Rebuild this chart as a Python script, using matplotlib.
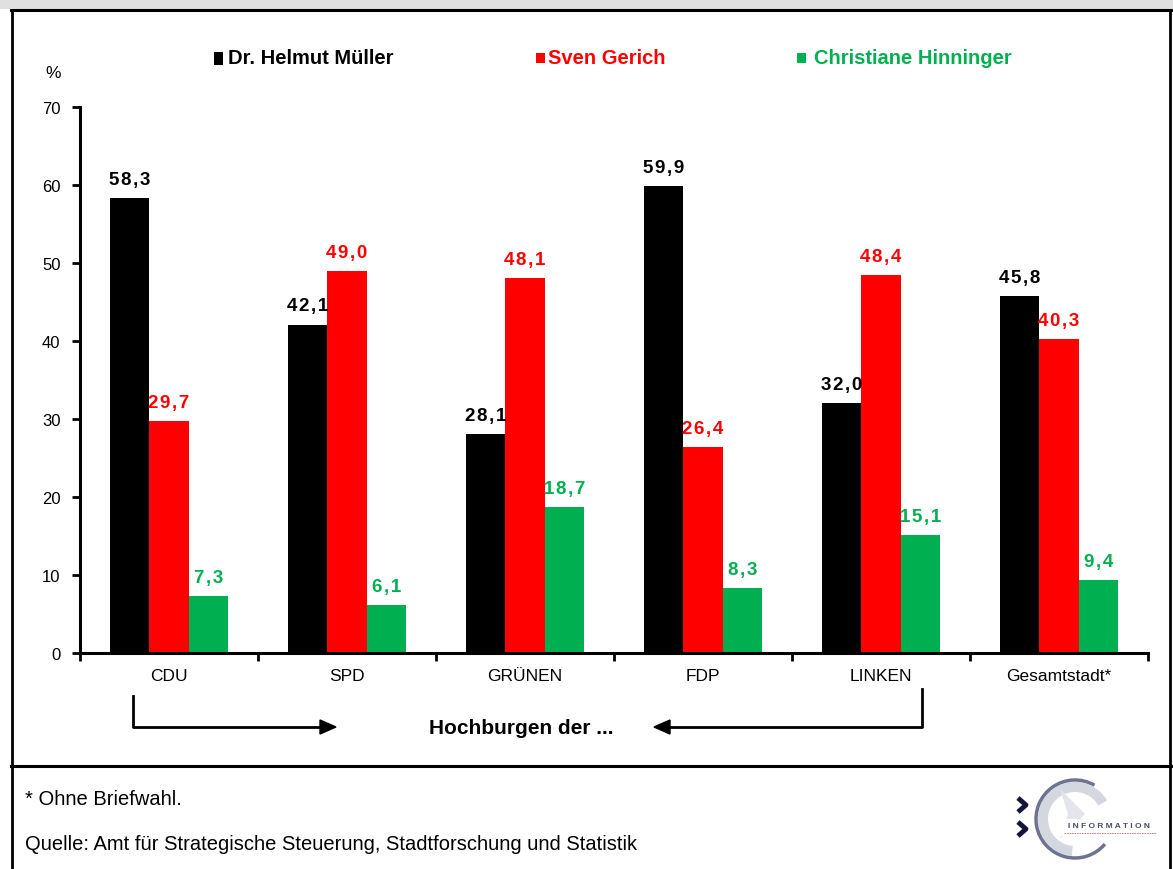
import matplotlib
matplotlib.use("Agg")
import matplotlib.pyplot as plt
from matplotlib.patches import Arc, Rectangle, Polygon, Wedge
import numpy as np

categories = ["CDU", "SPD", "GRÜNEN", "FDP", "LINKEN", "Gesamtstadt*"]
series_names = ["Dr. Helmut Müller", "Sven Gerich", "Christiane Hinninger"]
mueller = [58.3, 42.1, 28.1, 59.9, 32.0, 45.8]
gerich = [29.7, 49.0, 48.1, 26.4, 48.4, 40.3]
hinninger = [7.3, 6.1, 18.7, 8.3, 15.1, 9.4]
colors = ["#000000", "#FF0000", "#00B050"]
y_ticks = [0, 10, 20, 30, 40, 50, 60, 70]

W, H = 1173, 870
plt.rcParams['font.family'] = ['Liberation Sans', 'DejaVu Sans']
fig = plt.figure(figsize=(W / 100, H / 100), dpi=100)

# overlay in pixel coordinates for frame / annotations
oax = fig.add_axes([0, 0, 1, 1], zorder=0)
oax.set_xlim(0, W)
oax.set_ylim(H, 0)
oax.axis("off")

oax.add_patch(Rectangle((0, 0), W, 10, facecolor="#E0E0E0", edgecolor="none"))
oax.plot([11, W], [10.5, 10.5], color="black", lw=2.2)
oax.plot([11.5, 11.5], [10.5, H], color="black", lw=2.0)
oax.plot([1170, 1170], [10.5, H], color="black", lw=2.0)
oax.plot([11, W], [767, 767], color="black", lw=2.2)

# main chart
ax = fig.add_axes([80 / W, 1 - 654 / H, (1148 - 80) / W, (654 - 108) / H], zorder=1)
x = np.arange(len(categories)) + 0.5
bw = 0.222
data = [mueller, gerich, hinninger]
for i, (vals, c) in enumerate(zip(data, colors)):
    xs = x + (i - 1) * bw
    ax.bar(xs, vals, width=bw, color=c, edgecolor="none", zorder=2)
    for xi, v in zip(xs, vals):
        lbl = "\u200a".join(f"{v:.1f}".replace(".", ","))
        ax.text(xi, v + 1.3, lbl, ha="center", va="bottom",
                color=c, fontsize=13.5, fontweight="bold")

ax.set_xlim(0, len(categories))
ax.set_ylim(0, 70)
ax.set_yticks(y_ticks)
ax.set_yticklabels([str(t) for t in y_ticks], fontsize=12)
ax.set_xticks(np.arange(len(categories) + 1))
ax.set_xticklabels([])
ax.set_xticks(x, minor=True)
ax.set_xticklabels(categories, minor=True, fontsize=12.5)
ax.tick_params(axis="x", which="minor", length=0, pad=11)
ax.tick_params(axis="x", which="major", direction="out", length=6, width=2)
ax.tick_params(axis="y", direction="out", length=6, width=2, pad=8)
for s in ["top", "right"]:
    ax.spines[s].set_visible(False)
for s in ["left", "bottom"]:
    ax.spines[s].set_linewidth(2.2)
ax.patch.set_alpha(0)

oax.text(53, 73, "%", fontsize=12.5, ha="center", va="center")

# legend
leg_x = [(218, 228), (540, 548), (801, 814)]
leg_h = [13, 10, 10]
for (sx, tx), hh, name, c in zip(leg_x, leg_h, series_names, colors):
    oax.add_patch(Rectangle((sx - 4.5, 59 - hh / 2), 9, hh, facecolor=c, edgecolor="none"))
    oax.text(tx, 59, name, color=c, fontsize=14.5, ha="left", va="center", fontweight="bold")

# arrows
oax.plot([133, 133, 322], [697, 728, 728], color="black", lw=2)
oax.plot([922, 922, 668], [690, 728, 728], color="black", lw=2)
oax.add_patch(Polygon([[320, 721], [336, 728], [320, 735]], closed=True, color="black"))
oax.add_patch(Polygon([[670, 721], [654, 728], [670, 735]], closed=True, color="black"))
oax.text(521, 729, "Hochburgen der ...", fontsize=15, ha="center", va="center", fontweight="bold")

# footer
oax.text(25, 800, "* Ohne Briefwahl.", fontsize=14.5, ha="left", va="center")
oax.text(25, 845, "Quelle: Amt für Strategische Steuerung, Stadtforschung und Statistik",
         fontsize=14.5, ha="left", va="center")

# logo approximation
oax.add_patch(Wedge((1075, 820), 37, 95, 330, width=10, facecolor="#D4D6E0", edgecolor="none"))
oax.add_patch(Arc((1075, 820), 78, 78, theta1=40, theta2=300, color="#6E7391", lw=2.5))
oax.add_patch(Polygon([[1060, 790], [1085, 815], [1060, 840], [1068, 815]], closed=True,
                      facecolor="#E4E5EC", edgecolor="none"))
for yy in (806, 830):
    oax.plot([1018, 1026, 1018], [yy - 7, yy, yy + 7], color="#15153a", lw=3.5, solid_capstyle="butt")
oax.add_patch(Rectangle((1058, 820), 102, 17, facecolor="white", edgecolor="none"))
oax.text(1109, 827, "I N F O R M A T I O N", fontsize=6, color="#4a4f68", ha="center",
         va="center", fontweight="bold")
oax.plot([1064, 1156], [834, 834], color="#b07070", lw=0.6, ls=(0, (2, 1)))

fig.savefig("out.png", dpi=100)
